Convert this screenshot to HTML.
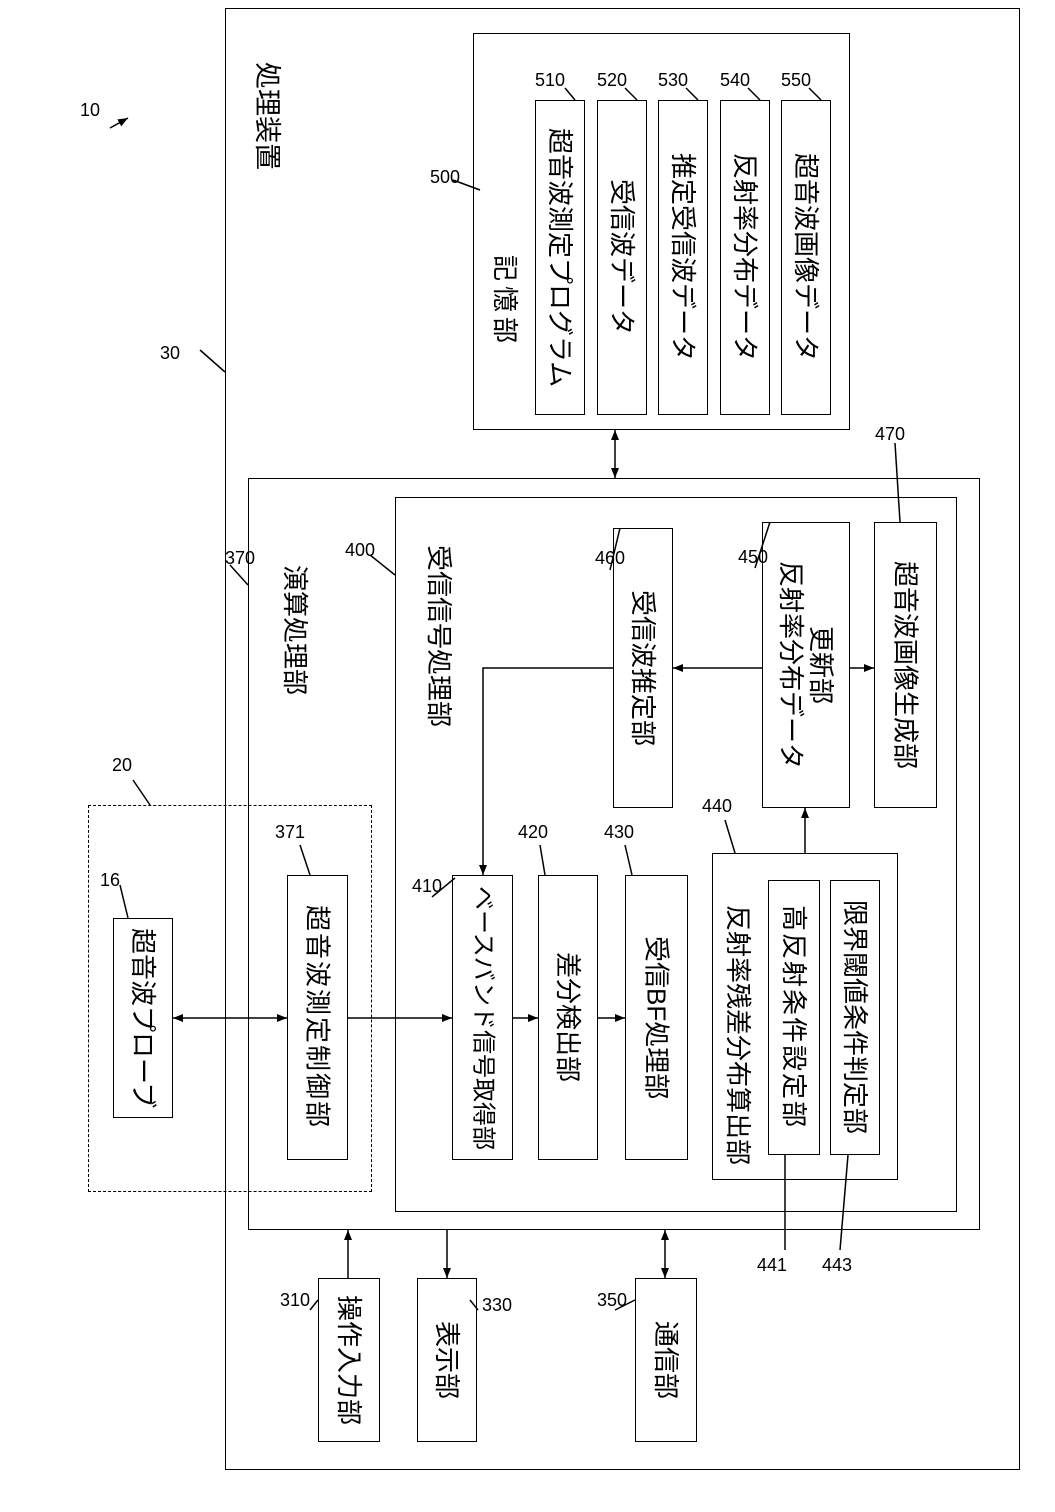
<!DOCTYPE html>
<html><head><meta charset="utf-8"><style>
body{margin:0;background:#fff;}
#c{position:relative;width:1055px;height:1512px;overflow:hidden;font-family:"Liberation Sans","Noto Sans CJK JP",sans-serif;color:#000;}
.b{position:absolute;border:1.5px solid #000;box-sizing:border-box;}
.v{position:absolute;writing-mode:vertical-rl;text-orientation:sideways;font-size:26px;line-height:30px;white-space:nowrap;}
.bx{display:flex;align-items:center;justify-content:center;}
.bx span{writing-mode:vertical-rl;text-orientation:sideways;font-size:26px;line-height:30px;white-space:nowrap;text-align:center;}
.n{position:absolute;font-size:18px;}
svg{position:absolute;left:0;top:0;}
</style></head><body><div id="c">
<div class="b" style="left:225px;top:8px;width:795px;height:1462px"></div>
<div class="v" style="left:252px;top:62px;font-size:27px">処理装置</div>
<div class="b" style="left:473px;top:33px;width:377px;height:397px"></div>
<div class="v" style="left:490px;top:255px;letter-spacing:5px">記憶部</div>
<div class="b bx" style="left:535px;top:100px;width:50px;height:315px"><span>超音波測定プログラム</span></div>
<div class="b bx" style="left:597px;top:100px;width:50px;height:315px"><span>受信波データ</span></div>
<div class="b bx" style="left:658px;top:100px;width:50px;height:315px"><span>推定受信波データ</span></div>
<div class="b bx" style="left:720px;top:100px;width:50px;height:315px"><span>反射率分布データ</span></div>
<div class="b bx" style="left:781px;top:100px;width:50px;height:315px"><span>超音波画像データ</span></div>
<div class="b" style="left:248px;top:478px;width:732px;height:752px"></div>
<div class="v" style="left:280px;top:565px">演算処理部</div>
<div class="b" style="left:395px;top:497px;width:562px;height:715px"></div>
<div class="v" style="left:424px;top:545px">受信信号処理部</div>
<div class="b bx" style="left:613px;top:528px;width:60px;height:280px"><span>受信波推定部</span></div>
<div class="b bx" style="left:762px;top:522px;width:88px;height:286px"><span style="writing-mode:vertical-lr">反射率分布データ<br>更新部</span></div>
<div class="b bx" style="left:874px;top:522px;width:63px;height:286px"><span>超音波画像生成部</span></div>
<div class="b bx" style="left:452px;top:875px;width:61px;height:285px"><span style="font-size:24px">ベースバンド信号取得部</span></div>
<div class="b bx" style="left:538px;top:875px;width:60px;height:285px"><span>差分検出部</span></div>
<div class="b bx" style="left:625px;top:875px;width:63px;height:285px"><span>受信BF処理部</span></div>
<div class="b" style="left:712px;top:853px;width:186px;height:327px"></div>
<div class="v" style="left:723px;top:905px">反射率残差分布算出部</div>
<div class="b bx" style="left:768px;top:880px;width:52px;height:275px"><span style="letter-spacing:2px">高反射条件設定部</span></div>
<div class="b bx" style="left:830px;top:880px;width:50px;height:275px"><span>限界閾値条件判定部</span></div>
<div class="b bx" style="left:287px;top:875px;width:61px;height:285px"><span style="letter-spacing:2px">超音波測定制御部</span></div>
<div class="b bx" style="left:113px;top:918px;width:60px;height:200px"><span>超音波プローブ</span></div>
<div class="b" style="left:88px;top:805px;width:284px;height:387px;border-style:dashed"></div>
<div class="b bx" style="left:318px;top:1278px;width:62px;height:164px"><span>操作入力部</span></div>
<div class="b bx" style="left:417px;top:1278px;width:60px;height:164px"><span>表示部</span></div>
<div class="b bx" style="left:635px;top:1278px;width:62px;height:164px"><span>通信部</span></div>
<div class="n" style="left:80px;top:100px">10</div>
<div class="n" style="left:160px;top:343px">30</div>
<div class="n" style="left:112px;top:755px">20</div>
<div class="n" style="left:100px;top:870px">16</div>
<div class="n" style="left:225px;top:548px">370</div>
<div class="n" style="left:275px;top:822px">371</div>
<div class="n" style="left:345px;top:540px">400</div>
<div class="n" style="left:412px;top:876px">410</div>
<div class="n" style="left:518px;top:822px">420</div>
<div class="n" style="left:604px;top:822px">430</div>
<div class="n" style="left:702px;top:796px">440</div>
<div class="n" style="left:738px;top:547px">450</div>
<div class="n" style="left:595px;top:548px">460</div>
<div class="n" style="left:875px;top:424px">470</div>
<div class="n" style="left:430px;top:167px">500</div>
<div class="n" style="left:535px;top:70px">510</div>
<div class="n" style="left:597px;top:70px">520</div>
<div class="n" style="left:658px;top:70px">530</div>
<div class="n" style="left:720px;top:70px">540</div>
<div class="n" style="left:781px;top:70px">550</div>
<div class="n" style="left:757px;top:1255px">441</div>
<div class="n" style="left:822px;top:1255px">443</div>
<div class="n" style="left:280px;top:1290px">310</div>
<div class="n" style="left:482px;top:1295px">330</div>
<div class="n" style="left:597px;top:1290px">350</div>
<svg width="1055" height="1512">
<defs><marker id="a" markerWidth="10" markerHeight="8" refX="10" refY="4" orient="auto-start-reverse" markerUnits="userSpaceOnUse"><path d="M0,0L10,4L0,8z"/></marker></defs>
<g stroke="#000" stroke-width="1.5" fill="none">
<path d="M110,128L128,118" marker-end="url(#a)"/>
<path d="M200,350L225,372"/><path d="M230,565L248,585"/><path d="M133,780L150,805"/>
<path d="M120,885L128,918"/><path d="M300,845L310,875"/><path d="M370,555L395,575"/>
<path d="M432,897L455,878"/><path d="M540,845L545,875"/><path d="M625,845L632,875"/>
<path d="M725,820L735,853"/><path d="M755,568L770,522"/><path d="M610,570L620,528"/>
<path d="M895,443L900,522"/><path d="M453,180L480,190"/>
<path d="M565,88L575,100"/><path d="M625,88L637,100"/><path d="M686,88L698,100"/><path d="M748,88L760,100"/><path d="M809,88L821,100"/>
<path d="M785,1155L785,1250"/><path d="M848,1155L840,1250"/>
<path d="M310,1310L318,1300"/><path d="M478,1310L470,1300"/><path d="M615,1310L635,1300"/>
<path d="M173,1018L287,1018" marker-start="url(#a)" marker-end="url(#a)"/>
<path d="M348,1018L452,1018" marker-end="url(#a)"/>
<path d="M513,1018L538,1018" marker-end="url(#a)"/>
<path d="M598,1018L625,1018" marker-end="url(#a)"/>
<path d="M613,668L483,668L483,875" marker-end="url(#a)"/>
<path d="M762,668L673,668" marker-end="url(#a)"/>
<path d="M850,668L874,668" marker-end="url(#a)"/>
<path d="M805,853L805,808" marker-end="url(#a)"/>
<path d="M615,430L615,478" marker-start="url(#a)" marker-end="url(#a)"/>
<path d="M348,1278L348,1230" marker-end="url(#a)"/>
<path d="M447,1230L447,1278" marker-end="url(#a)"/>
<path d="M665,1230L665,1278" marker-start="url(#a)" marker-end="url(#a)"/>
</g></svg>
</div></body></html>
